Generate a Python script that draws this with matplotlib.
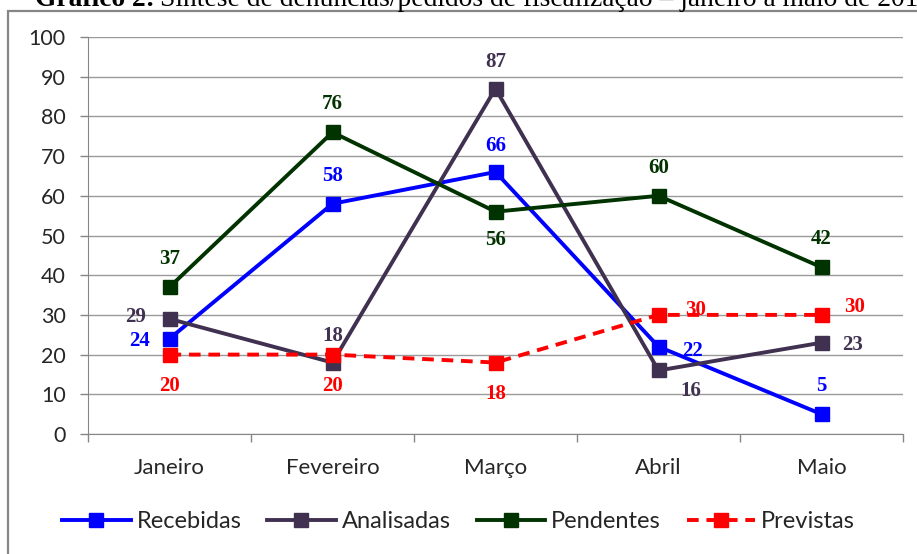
import matplotlib
matplotlib.use("Agg")
import matplotlib.pyplot as plt
from matplotlib.patches import Rectangle
from matplotlib.transforms import offset_copy

months = ["Janeiro", "Fevereiro", "Março", "Abril", "Maio"]
recebidas = [24, 58, 66, 22, 5]
analisadas = [29, 18, 87, 16, 23]
pendentes = [37, 76, 56, 60, 42]
previstas = [20, 20, 18, 30, 30]
y_ticks = list(range(0, 101, 10))

W, H = 917, 554
SANS = ["Lato", "DejaVu Sans"]
SERIF = ["Liberation Serif", "DejaVu Serif"]

# series: name, values, colour, linestyle, label offsets in pixels (dx, dy)
series = [
    ("Recebidas", recebidas, "#0000FF", "-",
     [(-30, -2), (0, 28), (0, 26), (34, -4), (0, 28)]),
    ("Analisadas", analisadas, "#403151", "-",
     [(-34, 2), (0, 27), (0, 27), (32, -21), (31, -2)]),
    ("Pendentes", pendentes, "#003300", "-",
     [(0, 28), (0, 28), (0, -28), (0, 28), (0, 28)]),
    ("Previstas", previstas, "#FF0000", "--",
     [(0, -31), (0, -31), (0, -31), (37, 5), (33, 8)]),
]

fig = plt.figure(figsize=(W / 100, H / 100), dpi=100)
ax = fig.add_axes([88 / W, 1 - 434 / H, (903 - 88) / W, (434 - 37) / H])

# outer chart border (cropped at right/bottom in the source)
fig.patches.append(Rectangle((8 / W, -0.1), 1.2, 1 - 11 / H + 0.1,
                             transform=fig.transFigure, fill=False,
                             edgecolor="#868686", linewidth=1.6))

x = list(range(len(months)))
for name, values, color, ls, offsets in series:
    ax.plot(x, values, color=color, linestyle=ls, linewidth=2.8,
            marker="s", markersize=9.5, label=name, zorder=3,
            dashes=(3, 2) if ls == "--" else (None, None))
    for xi, v, (dx, dy) in zip(x, values, offsets):
        tr = offset_copy(ax.transData, fig=fig, x=dx, y=dy, units="dots")
        ax.text(xi, v, str(v), transform=tr, ha="center", va="center",
                color=color, fontsize=15, fontweight="bold", family=SERIF,
                zorder=4)

ax.set_xlim(-0.5, len(months) - 0.5)
ax.set_ylim(0, 100)
ax.set_yticks(y_ticks)
ax.set_xticks(x)
ax.set_xticklabels(months, family=SANS, fontsize=16, color="#262626")
ax.set_xticks([i - 0.5 for i in range(len(months) + 1)], minor=True)
ax.tick_params(axis="x", which="major", length=0, pad=17)
ax.tick_params(axis="x", which="minor", length=6, width=1, color="#868686",
               direction="out")
ax.tick_params(axis="y", length=6, width=1, color="#868686", pad=10,
               labelsize=15.5, labelcolor="#262626")
for lab in ax.get_yticklabels():
    lab.set_family(SANS)
ax.grid(axis="y", color="#9a9a9a", linewidth=1)
ax.set_axisbelow(True)
for side in ("top", "right"):
    ax.spines[side].set_visible(False)
ax.spines["left"].set_color("#868686")
ax.spines["bottom"].set_color("#868686")

leg = fig.legend(loc="center", bbox_to_anchor=(0.5, 1 - 522 / H), ncol=4,
                 frameon=False, handlelength=2.9, columnspacing=1.1,
                 handletextpad=0.25, prop={"family": SANS, "size": 17})
for t in leg.get_texts():
    t.set_color("#262626")

# title, cut off at the top of the image
t1 = fig.text(35 / W, 1 - 6 / H, "Gráfico 2:", family=SERIF, fontsize=19.8,
              fontweight="bold", ha="left", va="baseline")
fig.canvas.draw()
bb = t1.get_window_extent(fig.canvas.get_renderer())
fig.text((bb.x1 + 5) / W, 1 - 6 / H,
         "Síntese de denúncias/pedidos de fiscalização – janeiro a maio de 2014",
         family=SERIF, fontsize=19.8, ha="left", va="baseline")

fig.savefig("out.png", dpi=100)
